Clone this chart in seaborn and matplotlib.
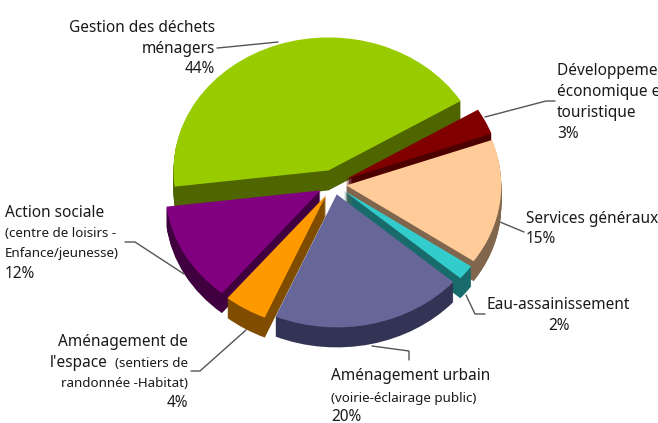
import seaborn as sns
import matplotlib.pyplot as plt
from matplotlib.lines import Line2D

W, H = 658, 423

# shares as measured on the drawn slices, the printed labels are rounded
values = [43.2, 3.2, 15.2, 1.8, 20, 4.5, 12.1]
explode = [0.108, 0.084, 0.08, 0.08, 0.08, 0.1, 0.1]
top_colors = ['#99CC00', '#800000', '#FFCC99', '#33CCCC', '#666699', '#FF9900', '#800080']
side_colors = ['#4F6600', '#4D0000', '#80664D', '#196B6B', '#333355', '#804D00', '#400040']

# pie size in pixels, the axes covers the whole figure
cx, cy = 334, 184
rx, ry = 155, 133
depth = 20

sns.set_theme(style='white')
plt.rcParams['font.family'] = ['Noto Sans', 'DejaVu Sans']

fig = plt.figure(figsize=(W / 100, H / 100), dpi=100)
ax = fig.add_axes([0, 0, 1, 1])


def draw_slice(i, y, colors):
    wedges, _ = ax.pie(values, explode=explode, colors=colors, startangle=187,
                       counterclock=False, center=(0, y), radius=1,
                       wedgeprops={'linewidth': 0})
    for j, w in enumerate(wedges):
        w.set_visible(j == i)
    return wedges


# back slices first, so the front ones cover their walls
for i in [0, 1, 2, 6, 5, 3, 4]:
    for d in range(depth, 0, -1):
        draw_slice(i, -d / ry, side_colors)
    draw_slice(i, 0, top_colors)

ax.set_aspect('auto')
ax.set_xlim(-cx / rx, (W - cx) / rx)
ax.set_ylim((cy - H) / ry, cy / ry)
ax.axis('off')


def label(x, y, s, size=11.1, ha='left'):
    fig.text(x / W, 1 - y / H, s, fontsize=size, ha=ha, va='center', color='#1a1a1a')


def leader(*pts):
    xs = [p[0] / W for p in pts]
    ys = [1 - p[1] / H for p in pts]
    fig.add_artist(Line2D(xs, ys, color='#555555', lw=1))


label(215, 28, 'Gestion des déchets', ha='right')
label(215, 49, 'ménagers', ha='right')
label(215, 69, '44%', ha='right')
leader((217, 48), (228, 47), (278, 42))

label(557, 71, 'Développement et')
label(557, 92, 'économique et')
label(557, 113, 'touristique')
label(557, 134, '3%')
leader((485, 117), (546, 101), (555, 101))

label(526, 219, 'Services généraux')
label(526, 239, '15%')
leader((500, 222), (524, 232))

label(486, 305, 'Eau-assainissement')
label(559, 326, '2%', ha='center')
leader((466, 295), (475, 314), (485, 314))

label(331, 376, 'Aménagement urbain')
label(331, 398, '(voirie-éclairage public)', size=9.6)
label(331, 417, '20%')
leader((372, 346), (409, 351), (409, 360))

label(188, 342, 'Aménagement de', ha='right')
label(108, 363, "l'espace", ha='right')
label(188, 363, '(sentiers de', size=9.6, ha='right')
label(188, 383, 'randonnée -Habitat)', size=9.6, ha='right')
label(188, 403, '4%', ha='right')
leader((246, 330), (200, 371), (191, 371))

label(5, 213, 'Action sociale')
label(5, 233, '(centre de loisirs -', size=9.6)
label(5, 254, 'Enfance/jeunesse)', size=9.6)
label(5, 274, '12%')
leader((184, 274), (135, 242), (125, 242))

fig.savefig('out.png', dpi=100)
